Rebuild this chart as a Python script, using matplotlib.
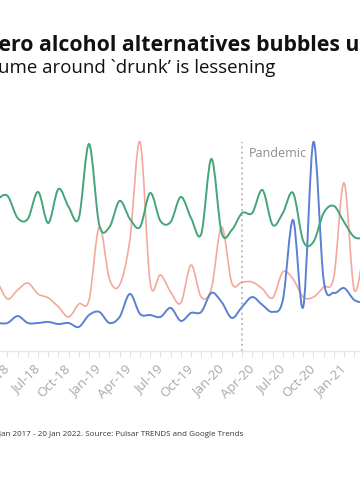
import numpy as np
import matplotlib
matplotlib.use("Agg")
import matplotlib.pyplot as plt
from matplotlib.path import Path
from matplotlib.patches import PathPatch

plt.rcParams['font.family'] = ['Open Sans', 'DejaVu Sans']

# ---- data (monthly, Feb-18 .. Mar-21) ----
months = ["Feb-18", "Mar-18", "Apr-18", "May-18", "Jun-18", "Jul-18", "Aug-18", "Sep-18",
          "Oct-18", "Nov-18", "Dec-18",
          "Jan-19", "Feb-19", "Mar-19", "Apr-19", "May-19", "Jun-19", "Jul-19", "Aug-19",
          "Sep-19", "Oct-19", "Nov-19", "Dec-19",
          "Jan-20", "Feb-20", "Mar-20", "Apr-20", "May-20", "Jun-20", "Jul-20", "Aug-20",
          "Sep-20", "Oct-20", "Nov-20", "Dec-20",
          "Jan-21", "Feb-21", "Mar-21"]

green_series = [69.9, 72.7, 74.2, 63.6, 63.2, 76.1, 61.2, 77.5, 68.9, 63.6, 99.0,
                60.3, 59.3, 71.8, 63.2, 59.3, 75.6, 62.2, 61.7, 73.7, 63.6, 56.0, 91.9,
                56.5, 57.9, 66.0, 66.0, 77.0, 60.3, 66.0, 75.6, 52.6, 52.2, 66.0, 69.4,
                61.7, 54.5, 54.1]
red_series = [38.8, 33.0, 24.9, 29.2, 32.5, 27.3, 25.4, 21.1, 16.3, 22.5, 24.4,
              59.3, 34.4, 31.6, 53.1, 100.0, 32.5, 36.4, 28.2, 23.0, 41.1, 25.8, 30.1,
              59.3, 32.5, 33.0, 33.0, 29.7, 25.4, 37.8, 34.4, 25.8, 25.8, 30.6, 35.4,
              80.4, 29.2, 50.7]
blue_series = [13.9, 13.4, 13.4, 16.7, 13.4, 13.4, 13.9, 12.9, 13.4, 11.5, 17.2,
               18.7, 13.4, 16.3, 27.3, 17.7, 17.2, 16.3, 20.6, 14.4, 18.2, 18.7, 27.8,
               23.4, 15.8, 21.1, 25.8, 22.0, 18.7, 24.4, 62.7, 21.1, 100.0, 34.0, 27.8,
               30.1, 24.4, 23.0]
pandemic_month = "Mar-20"
tick_months = ["Jan", "Apr", "Jul", "Oct"]

title = "zero alcohol alternatives bubbles up"
subtitle = "Volume around `drunk\u2019 is lessening"
footnote = "Data from 1 Jan 2017 - 20 Jan 2022. Source: Pulsar TRENDS and Google Trends"

# ---- figure ----
W, H = 360, 500
fig = plt.figure(figsize=(W / 100, H / 100), dpi=100)
fig.patch.set_facecolor('white')

ax_bottom_px = 351
ax_top_px = 121
ax = fig.add_axes([0, 1 - ax_bottom_px / H, 1, (ax_bottom_px - ax_top_px) / H])
ax.set_facecolor('none')

x = np.arange(len(months))


def smooth_path(xs, ys):
    xs = np.asarray(xs, float)
    ys = np.asarray(ys, float)
    pts = np.column_stack([xs, ys])
    n = len(pts)
    verts = [pts[0]]
    codes = [Path.MOVETO]
    for i in range(n - 1):
        p0 = pts[i - 1] if i > 0 else pts[i]
        p1 = pts[i]
        p2 = pts[i + 1]
        p3 = pts[i + 2] if i + 2 < n else pts[i + 1]
        c1 = p1 + (p2 - p0) / 6.0
        c2 = p2 - (p3 - p1) / 6.0
        verts += [c1, c2, p2]
        codes += [Path.CURVE4] * 3
    return Path(verts, codes)


for ys, col, lw in [(red_series, '#f2a99a', 1.2),
                    (blue_series, '#5b80d3', 1.4),
                    (green_series, '#44a57a', 1.4)]:
    patch = PathPatch(smooth_path(x, ys), facecolor='none', edgecolor=col,
                      lw=lw, capstyle='round', joinstyle='round')
    ax.add_patch(patch)

# pandemic marker
pi = months.index(pandemic_month)
ax.vlines(pi, 0, 100, colors='#a8a8a8', linestyles=(0, (1.2, 2.2)), lw=1.1)
ax.text(pi + 0.65, 94.5, "Pandemic", color='#8c8c8c', fontsize=9.0, va='center', ha='left')

# axes styling
for s in ['left', 'right', 'top']:
    ax.spines[s].set_visible(False)
ax.spines['bottom'].set_color('#e6e6e6')
ax.spines['bottom'].set_linewidth(1.0)
ax.set_yticks([])
ax.set_xticks(x)
ax.set_xticklabels([m if m[:3] in tick_months else "" for m in months],
                   rotation=45, ha='right', va='center', rotation_mode='anchor',
                   color='#a8a8a8', fontsize=9.5)
ax.tick_params(axis='x', length=4, width=0.8, color='#e0e0e0', pad=7.5)

# view limits (set after ticks so they are not expanded)
px_per_month = 10.2
x0 = 1.27
ax.set_xlim(x0, x0 + W / px_per_month)
ax.set_ylim(0, 110)

# texts
fig.text(-11.5 / W, 1 - 50.7 / H, title, fontsize=15.3, fontweight='bold',
         color='#111111', ha='left', va='baseline')
fig.text(275 / W, 1 - 72.7 / H, subtitle, fontsize=13.4, color='#111111',
         ha='right', va='baseline')
fig.text(243 / W, 1 - 436 / H, footnote, fontsize=5.8, color='#333333',
         ha='right', va='baseline')

fig.savefig('out.png', dpi=100, facecolor='white')
